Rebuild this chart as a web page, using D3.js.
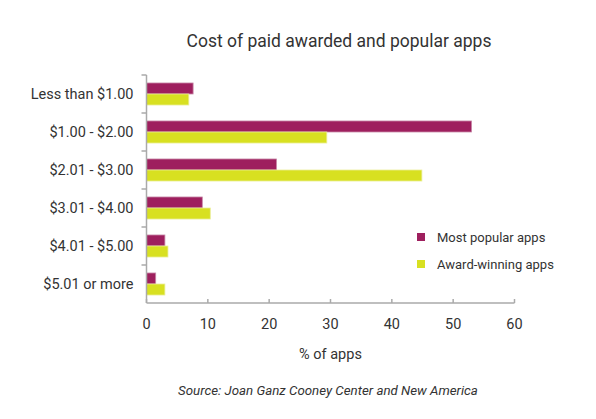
<!DOCTYPE html>
<html>
<head>
<meta charset="utf-8">
<script src="https://d3js.org/d3.v7.min.js"></script>
<style>
  body { margin: 0; background: #fff; }
  svg { display: block; }
  text { font-family: Roboto, "DejaVu Sans", sans-serif; fill: #333; }
</style>
</head>
<body>
<div id="chart"></div>
<script>
// data
const categories = ["Less than $1.00", "$1.00 - $2.00", "$2.01 - $3.00", "$3.01 - $4.00", "$4.01 - $5.00", "$5.01 or more"];
const seriesNames = ["Most popular apps", "Award-winning apps"];
const popular = [7.6, 53.0, 21.2, 9.1, 3.0, 1.5];
const awarded = [6.9, 29.4, 44.9, 10.4, 3.5, 3.0];
const xTicks = [0, 10, 20, 30, 40, 50, 60];
const colors = ["#9e1f5e", "#d8e021"];

const width = 596, height = 419;
const plot = { left: 146.5, right: 514.5, top: 75, bottom: 303 };

const svg = d3.select("#chart").append("svg")
    .attr("width", width)
    .attr("height", height);

// scales in page pixels, no group transforms
const x = d3.scaleLinear().domain([0, 60]).range([plot.left, plot.right]);
const y = d3.scaleBand().domain(categories).range([plot.top, plot.bottom]).paddingInner(0.42).paddingOuter(0.21);
const inner = d3.scaleBand().domain(seriesNames).range([0, y.bandwidth()]);

const bars = [];
categories.forEach((c, i) => {
    bars.push({ cat: c, key: seriesNames[0], value: popular[i], j: 0 });
    bars.push({ cat: c, key: seriesNames[1], value: awarded[i], j: 1 });
});

// bars
svg.selectAll(".bar")
    .data(bars)
    .enter().append("rect")
    .attr("class", "bar")
    .attr("x", x(0))
    .attr("y", d => y(d.cat) + inner(d.key))
    .attr("width", d => x(d.value) - x(0))
    .attr("height", inner.bandwidth())
    .attr("fill", d => colors[d.j])
    .attr("stroke", d => d.j === 0 ? "#c789a8" : "#eaee9a")
    .attr("stroke-width", 0.8);

const axisColor = "#aaa";

// y axis with ticks between categories
const step = y.step();
svg.append("line")
    .attr("x1", x(0)).attr("x2", x(0))
    .attr("y1", plot.top).attr("y2", plot.bottom)
    .attr("stroke", axisColor).attr("stroke-width", 1.5);
svg.selectAll(".ytick")
    .data(d3.range(categories.length))
    .enter().append("line")
    .attr("x1", x(0) - 5).attr("x2", x(0))
    .attr("y1", i => plot.top + i * step).attr("y2", i => plot.top + i * step)
    .attr("stroke", axisColor).attr("stroke-width", 1.5);
svg.selectAll(".ylabel")
    .data(categories)
    .enter().append("text")
    .attr("x", x(0) - 13)
    .attr("y", d => y(d) + y.bandwidth() / 2 + 5)
    .attr("text-anchor", "end")
    .style("font-size", "14.5px")
    .text(d => d);

// x axis
svg.append("line")
    .attr("x1", x(0)).attr("x2", x(60))
    .attr("y1", plot.bottom).attr("y2", plot.bottom)
    .attr("stroke", axisColor).attr("stroke-width", 1.5);
svg.selectAll(".xtick")
    .data(xTicks)
    .enter().append("line")
    .attr("x1", d => x(d)).attr("x2", d => x(d))
    .attr("y1", plot.bottom - 4).attr("y2", plot.bottom)
    .attr("stroke", axisColor).attr("stroke-width", 1.5);
svg.selectAll(".xlabel")
    .data(xTicks)
    .enter().append("text")
    .attr("x", d => x(d))
    .attr("y", plot.bottom + 26)
    .attr("text-anchor", "middle")
    .style("font-size", "14.5px")
    .text(d => d);

// labels
svg.append("text")
    .attr("x", 339)
    .attr("y", 47)
    .attr("text-anchor", "middle")
    .style("font-size", "17.5px")
    .text("Cost of paid awarded and popular apps");

svg.append("text")
    .attr("x", (plot.left + plot.right) / 2)
    .attr("y", 359)
    .attr("text-anchor", "middle")
    .style("font-size", "14.5px")
    .text("% of apps");

svg.append("text")
    .attr("x", 328)
    .attr("y", 395)
    .attr("text-anchor", "middle")
    .style("font-size", "13.3px")
    .style("font-style", "italic")
    .text("Source: Joan Ganz Cooney Center and New America");

// legend
seriesNames.forEach((name, i) => {
    const cy = 237 + i * 27;
    svg.append("rect")
        .attr("x", 417).attr("y", cy - 4)
        .attr("width", 8).attr("height", 8)
        .attr("fill", colors[i]);
    svg.append("text")
        .attr("x", 437)
        .attr("y", cy + 5)
        .style("font-size", "13px")
        .text(name);
});
</script>
</body>
</html>
